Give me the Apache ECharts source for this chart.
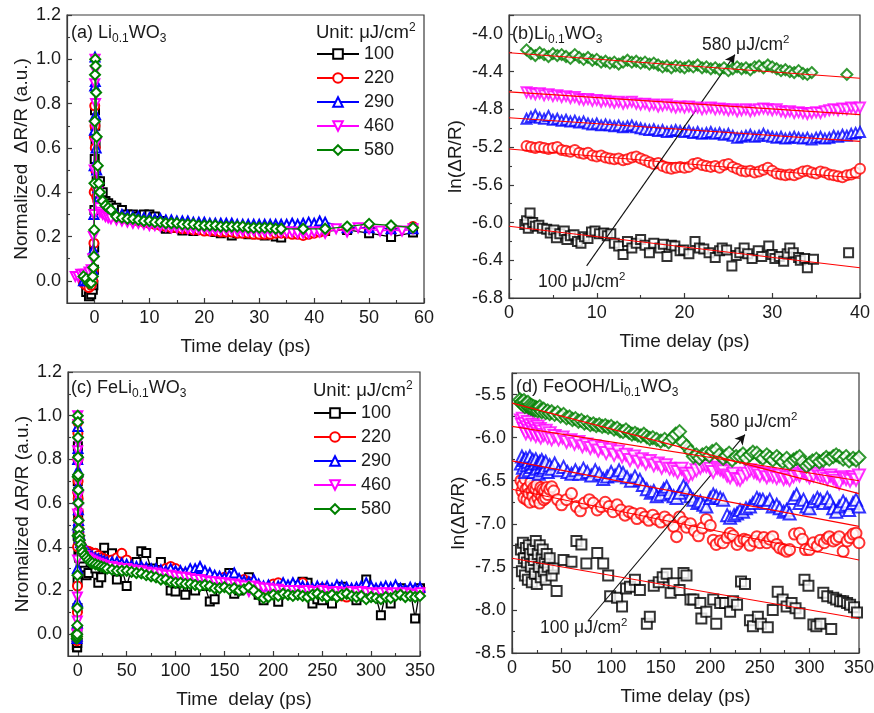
<!DOCTYPE html>
<html><head><meta charset="utf-8">
<script src="https://cdn.jsdelivr.net/npm/echarts@6/dist/echarts.min.js"></script>
<style>html,body{margin:0;padding:0;background:#fff}#c{width:874px;height:713px}</style>
</head><body><div id="c"></div>
<script>
// ---------- series names / tick labels ----------
const names = ['100','220','290','460','580'];
const ticksAx = [0,10,20,30,40,50,60];
const minorAx = [5,15,25,35,45,55];
const ticksAy = [0,0.2,0.4,0.6,0.8,1.0,1.2];
const minorAy = [0.1,0.3,0.5,0.7,0.9,1.1];
const ticksCx = [0,50,100,150,200,250,300,350];
const minorCx = [25,75,125,175,225,275,325];

// ---------- panel (a) ----------
const timeA = [-3.5,-3,-2.5,-2,-1.5,-1,-0.6,-0.3,-0.2,-0.1,-0.05,0,0.05,0.1,0.15,0.2,0.3,0.4,0.6,0.8,1,1.5,2,2.5,3,
4,5,6,7,8,9,10,11,12,13,14,15,16,17,18,19,20,21,22,23,24,25,26,27,28,29,30,31,32,33,34,35,36,37,38,39,40,41,42,
44,46,48,50,52,54,56,58];
const a100 = [null,null,null,null,-0.05,-0.07,-0.06,-0.04,-0.02,0.05,0.15,0.32,0.55,0.77,0.7,0.62,0.5,0.45,0.42,0.44,0.45,0.4,0.36,0.35,0.34,
0.33,0.32,0.3,0.3,0.29,0.3,0.3,0.29,0.27,0.235,0.24,0.24,0.227,0.23,0.225,0.23,0.235,0.23,0.22,0.215,0.22,0.205,0.215,0.22,0.21,0.215,0.21,0.205,0.21,0.2,0.196,
null,null,null,0.22,null,null,null,0.225,
null,0.23,null,0.215,null,0.198,null,0.218];
const a220 = [null,null,null,-0.01,-0.02,-0.03,-0.02,0.0,0.05,0.17,0.4,0.65,0.79,0.7,0.6,0.5,0.42,0.38,0.36,0.34,0.33,0.32,0.31,0.305,0.3,
0.29,0.285,0.28,0.275,0.27,0.265,0.26,0.255,0.25,0.245,0.24,0.24,0.235,0.235,0.23,0.23,0.225,0.225,0.225,0.22,0.22,0.22,0.215,0.215,0.215,0.21,0.21,0.21,0.21,0.215,0.215,
0.215,0.21,0.21,0.205,0.21,0.215,0.22,0.225,
null,0.235,null,0.24,null,0.235,null,0.245];
const a290 = [null,null,null,0.0,0.0,0.01,0.03,0.05,0.14,0.3,0.52,0.68,0.88,1.01,0.9,0.75,0.6,0.5,0.42,0.38,0.36,0.34,0.33,0.32,0.31,
0.3,0.3,0.295,0.29,0.29,0.285,0.285,0.28,0.28,0.275,0.275,0.27,0.27,0.27,0.265,0.265,0.265,0.26,0.26,0.26,0.26,0.26,0.255,0.255,0.255,0.255,0.255,0.255,0.255,0.255,0.255,
0.255,0.26,0.255,0.26,0.265,0.26,0.27,0.265,
null,0.24,null,0.24,null,0.235,null,0.235];
const a460 = [0.02,0.02,0.03,0.03,0.03,0.04,0.05,0.1,0.2,0.3,0.5,0.7,0.89,1.0,0.95,0.8,0.62,0.5,0.4,0.33,0.31,0.3,0.29,0.285,0.28,
0.275,0.27,0.265,0.26,0.26,0.255,0.25,0.25,0.245,0.245,0.24,0.24,0.24,0.235,0.235,0.235,0.235,0.23,0.23,0.23,0.23,0.23,0.225,0.225,0.225,0.225,0.225,0.22,0.225,0.225,0.22,
0.22,0.22,0.215,0.215,0.215,0.22,0.22,0.215,
0.235,0.22,0.24,0.235,0.225,0.23,0.225,0.235];
const a580 = [null,null,null,0.02,0.01,-0.01,-0.01,0.02,0.06,0.11,0.23,0.44,0.72,0.93,1.0,0.97,0.85,0.65,0.52,0.44,0.40,0.36,0.34,0.33,0.32,
0.29,0.285,0.28,0.28,0.275,0.27,0.27,0.265,0.265,0.26,0.26,0.26,0.255,0.255,0.255,0.25,0.25,0.25,0.25,0.245,0.245,0.245,0.245,0.245,0.24,0.24,0.24,0.24,0.24,0.235,0.235,
null,null,null,0.235,null,null,null,0.235,
null,0.245,null,0.257,null,0.25,null,0.24];

// ---------- panel (b) ----------
const timeB = [2,2.5,3,3.5,4,4.5,5,5.5,6,6.5,7,7.5,8,8.5,9,9.5,10,10.5,11,11.5,12,12.5,13,13.5,14,14.5,15,15.5,16,16.5,17,17.5,18,18.5,19,19.5,20,20.5,21,21.5,22,22.5,23,23.5,24,24.5,25,25.5,26,26.5,27,27.5,28,28.5,29,29.5,30,30.5,31,31.5,32,32.5,33,33.5,34,34.5,35,35.5,36,36.5,37,37.5,38,38.5,39,39.5,40];
const b220 = [-5.19,-5.2,-5.21,-5.2,-5.21,-5.22,-5.21,-5.2,-5.23,
-5.24,-5.25,-5.23,-5.26,-5.27,-5.26,-5.29,-5.3,-5.29,
-5.31,-5.32,-5.33,-5.32,-5.34,-5.33,-5.31,-5.3,-5.32,
-5.34,-5.36,-5.38,-5.37,-5.4,-5.42,-5.43,-5.42,-5.41,
-5.42,-5.41,-5.38,-5.37,-5.39,-5.4,-5.41,-5.4,-5.42,
-5.39,-5.38,-5.41,-5.43,-5.45,-5.46,-5.45,-5.47,-5.46,
-5.44,-5.42,-5.45,-5.48,-5.49,-5.5,-5.49,-5.5,-5.48,
-5.46,-5.45,-5.47,-5.48,-5.46,-5.47,-5.49,-5.5,-5.51,
-5.52,-5.5,-5.49,-5.47,-5.43];
const b290 = [-4.9,-4.88,-4.86,-4.89,-4.9,-4.87,-4.91,-4.9,-4.92,
-4.91,-4.93,-4.92,-4.94,-4.93,-4.95,-4.96,-4.95,-4.97,
-4.96,-4.97,-4.98,-4.97,-4.99,-4.98,-4.97,-4.99,-5.0,
-5.01,-5.02,-5.01,-5.03,-5.02,-5.04,-5.03,-5.02,-5.03,
-5.04,-5.03,-5.05,-5.04,-5.06,-5.05,-5.04,-5.06,-5.05,
-5.07,-5.06,-5.08,-5.1,-5.09,-5.08,-5.07,-5.09,-5.08,
-5.06,-5.08,-5.09,-5.1,-5.09,-5.11,-5.1,-5.09,-5.1,
-5.11,-5.1,-5.12,-5.1,-5.09,-5.11,-5.1,-5.08,-5.09,
-5.07,-5.08,-5.06,-5.05,-5.04];
const b460 = [-4.62,-4.63,-4.64,-4.63,-4.65,-4.64,-4.66,-4.65,-4.67,
-4.66,-4.68,-4.67,-4.69,-4.7,-4.69,-4.71,-4.7,-4.72,
-4.71,-4.72,-4.73,-4.72,-4.74,-4.73,-4.72,-4.74,-4.75,
-4.74,-4.76,-4.75,-4.77,-4.76,-4.75,-4.77,-4.78,-4.77,
-4.78,-4.77,-4.79,-4.78,-4.8,-4.79,-4.78,-4.8,-4.79,
-4.8,-4.81,-4.8,-4.82,-4.81,-4.8,-4.82,-4.81,-4.8,
-4.79,-4.8,-4.81,-4.8,-4.82,-4.83,-4.82,-4.84,-4.83,
-4.84,-4.85,-4.84,-4.83,-4.84,-4.82,-4.81,-4.8,-4.81,
-4.79,-4.8,-4.78,-4.79,-4.78];
const b580 = [-4.17,-4.21,-4.23,-4.2,-4.22,-4.24,-4.21,-4.23,-4.22,
-4.24,-4.26,-4.22,-4.25,-4.27,-4.25,-4.28,-4.27,-4.3,
-4.29,-4.31,-4.3,-4.32,-4.3,-4.28,-4.3,-4.29,-4.31,
-4.3,-4.32,-4.31,-4.33,-4.35,-4.34,-4.36,-4.34,-4.35,
-4.36,-4.34,-4.35,-4.33,-4.36,-4.35,-4.37,-4.36,-4.38,
-4.36,-4.39,-4.37,-4.35,-4.37,-4.36,-4.38,-4.35,-4.34,
-4.36,-4.33,-4.35,-4.37,-4.39,-4.38,-4.4,-4.41,-4.39,
-4.42,-4.43,-4.41,null,null,null,null,null,null,
null,-4.43,null,null,null];
const b100 = [[1.8,-6.02],[2,-5.98],[2.2,-6.06],[2.4,-5.9],[2.7,-6.0],[3,-6.04],[3.4,-6.03],[3.8,-6.06],[4.3,-6.07],[4.7,-6.11],[5.1,-6.08],[5.4,-6.16],[5.8,-6.12],[6.3,-6.09],[6.6,-6.18],[7,-6.14],[7.4,-6.13],[7.8,-6.2],[8.2,-6.22],[8.6,-6.15],[9,-6.17],[9.4,-6.1],[9.8,-6.09],[10.3,-6.12],[10.8,-6.11],[11.2,-6.14],[11.6,-6.12],[12,-6.22],[12.5,-6.25],[13,-6.34],[13.5,-6.2],[14,-6.27],[14.5,-6.22],[15,-6.18],[15.5,-6.24],[16,-6.32],[16.5,-6.22],[17.2,-6.27],[17.6,-6.23],[18,-6.36],[18.5,-6.24],[18.9,-6.25],[19.5,-6.3],[19.9,-6.29],[20.5,-6.33],[21.2,-6.2],[21.7,-6.27],[22.2,-6.28],[22.8,-6.32],[23.5,-6.37],[24,-6.3],[24.3,-6.27],[24.8,-6.29],[25.4,-6.46],[25.9,-6.35],[26.3,-6.32],[26.8,-6.27],[27.2,-6.33],[27.7,-6.38],[28.4,-6.3],[28.8,-6.36],[29.6,-6.25],[30,-6.34],[30.3,-6.38],[30.8,-6.36],[31.3,-6.41],[31.7,-6.33],[32,-6.27],[32.4,-6.32],[33,-6.37],[33.2,-6.4],[33.7,-6.38],[34,-6.48],[34.7,-6.39],[38.7,-6.32]];
const fitB100 = [[0,-6.04],[40,-6.48]];
const fitB220 = [[0,-5.22],[40,-5.53]];
const fitB290 = [[0,-4.89],[40,-5.14]];
const fitB460 = [[0,-4.615],[40,-4.856]];
const fitB580 = [[0,-4.2],[40,-4.47]];
const arrowB = [[8.85,-6.46],[25.75,-4.22]];

// ---------- panel (c) ----------
const timeC = [-1.5,-1,-0.8,-0.6,-0.5,-0.4,-0.3,-0.2,-0.1,0,0.1,0.2,0.3,0.4,0.5,0.6,0.8,1,1.5,2,3,4,5,7,9,11,13,15,18,21,24,27,30,
35,40,45,50,55,60,65,70,75,80,85,90,95,100,105,110,115,120,125,130,135,140,145,150,155,160,165,170,175,180,185,190,195,200,205,210,215,220,225,230,235,240,245,250,255,260,265,270,275,280,285,290,295,300,305,310,315,320,325,330,335,340,345,350];
const c100 = [null,-0.05,-0.06,-0.06,-0.04,0.02,0.12,0.24,0.45,0.7,0.86,0.8,0.65,0.55,0.48,0.43,0.38,0.36,0.35,0.36,0.33,0.3,0.31,0.29,0.27,0.28,0.35,0.37,0.3,0.235,0.26,0.395,0.3,
0.37,0.25,0.3,0.22,0.3,0.33,0.38,0.372,0.3,0.28,
0.33,0.29,0.2,0.195,0.25,0.18,0.24,0.2,0.26,0.22,
0.15,0.16,0.23,0.25,0.28,0.185,0.2,0.24,0.26,0.21,
0.18,0.155,0.2,0.19,0.148,0.2,0.21,0.19,0.22,0.24,
0.235,0.14,0.16,0.155,0.18,0.14,0.19,0.217,0.2,0.19,
0.155,0.2,0.25,0.2,0.17,0.087,0.19,0.14,0.2,0.21,
0.19,0.2,0.072,0.21];
const c220 = [null,-0.01,-0.03,-0.02,0.03,0.1,0.22,0.4,0.65,0.97,0.92,0.8,0.7,0.62,0.56,0.52,0.48,0.46,0.44,0.42,0.41,0.4,0.39,0.385,0.38,0.38,0.375,0.37,0.37,0.36,0.35,0.345,0.34,
0.34,0.35,0.37,0.34,0.3,0.29,0.3,0.29,0.28,0.285,
0.29,0.3,0.31,0.3,0.28,0.27,0.27,0.26,0.255,0.25,
0.24,0.245,0.255,0.26,0.25,0.23,0.22,0.25,0.24,0.22,
0.2,0.21,0.2,0.23,0.235,0.21,0.2,0.21,0.215,0.235,
0.2,0.19,0.2,0.21,0.2,0.195,0.19,0.175,0.17,0.19,
0.2,0.2,0.21,0.205,0.2,0.195,0.19,0.2,0.205,0.195,
0.19,0.2,0.195,0.2];
const c290 = [null,0.0,-0.02,-0.01,0.05,0.15,0.3,0.5,0.8,0.99,0.95,0.85,0.75,0.68,0.62,0.57,0.52,0.49,0.46,0.44,0.42,0.41,0.4,0.39,0.38,0.37,0.36,0.355,0.35,0.345,0.34,0.335,0.33,
0.33,0.33,0.325,0.32,0.315,0.31,0.31,0.305,0.3,0.3,
0.295,0.29,0.3,0.29,0.29,0.285,0.3,0.3,0.31,0.29,
0.28,0.27,0.265,0.26,0.27,0.28,0.255,0.245,0.24,0.25,
0.23,0.22,0.225,0.215,0.22,0.235,0.225,0.235,0.23,0.22,
0.215,0.21,0.22,0.215,0.22,0.21,0.225,0.22,0.215,0.21,
0.215,0.22,0.235,0.22,0.21,0.215,0.22,0.215,0.225,0.21,
0.205,0.215,0.21,0.215];
const c460 = [null,0.0,-0.02,0.0,0.06,0.17,0.34,0.55,0.84,1.0,0.96,0.88,0.78,0.7,0.63,0.58,0.5,0.46,0.43,0.41,0.39,0.38,0.37,0.36,0.35,0.345,0.34,0.335,0.33,0.325,0.32,0.315,0.31,
0.31,0.305,0.3,0.3,0.295,0.29,0.29,0.285,0.28,0.28,
0.275,0.27,0.27,0.265,0.26,0.26,0.255,0.25,0.25,0.245,
0.24,0.24,0.235,0.235,0.23,0.23,0.225,0.22,0.195,0.22,
0.215,0.21,0.21,0.205,0.205,0.2,0.2,0.2,0.2,0.195,
0.2,0.195,0.195,0.2,0.195,0.19,0.195,0.19,0.19,0.195,
0.19,0.195,0.19,0.19,0.185,0.19,0.19,0.185,0.19,0.185,
0.19,0.185,0.18,0.19];
const c580 = [0.0,-0.02,-0.01,0.0,0.04,0.12,0.27,0.45,0.72,1.0,0.97,0.9,0.81,0.73,0.66,0.6,0.52,0.48,0.45,0.43,0.41,0.39,0.375,0.36,0.35,0.34,0.33,0.325,0.32,0.315,0.31,0.305,0.3,
0.295,0.29,0.29,0.29,0.285,0.28,0.278,0.27,0.265,0.26,
0.25,0.25,0.24,0.235,0.235,0.23,0.23,0.225,0.22,0.225,
0.22,0.21,0.21,0.215,0.205,0.21,0.2,0.205,0.215,0.2,
0.18,0.165,0.17,0.18,0.175,0.185,0.18,0.175,0.18,0.175,
0.17,0.18,0.185,0.175,0.17,0.18,0.17,0.18,0.185,0.175,
0.17,0.175,0.16,0.17,0.165,0.16,0.17,0.165,0.175,0.18,
0.17,0.175,0.17,0.175];

// ---------- panel (d) ----------
const d100 = [[9,-7.3],[10,-7.55],[11,-7.22],[12,-7.4],[13,-7.6],[14,-7.28],[15,-7.45],[16,-7.65],[17,-7.25],[18,-7.35],[19,-7.5],[20,-7.68],[21,-7.3],[22,-7.42],[23,-7.58],[24,-7.2],[25,-7.7],[26,-7.35],[27,-7.5],[28,-7.25],[29,-7.62],[30,-7.4],[31,-7.3],[32,-7.55],[33,-7.45],[34,-7.65],[35,-7.35],[36,-7.5],[38,-7.4],[40,-7.6],[42,-7.52],[45,-7.78],[52,-7.42],[60,-7.44],[65,-7.2],[70,-7.24],[75,-7.46],[86,-7.34],[92,-7.46],[97,-7.6],[99,-7.84],[106,-7.86],[111,-7.96],[115,-7.75],[119,-7.73],[124,-7.65],[129,-7.77],[136,-8.16],[139,-8.08],[143,-7.72],[148,-7.68],[152,-7.62],[156,-7.58],[160,-7.8],[163,-7.69],[169,-7.77],[173,-7.57],[176,-7.6],[180,-7.88],[183,-7.88],[190,-7.92],[191,-8.1],[196,-8.02],[203,-7.88],[206,-8.16],[210,-7.92],[215,-7.92],[220,-8.02],[223,-7.9],[227,-7.94],[231,-7.67],[235,-7.7],[240,-8.12],[243,-8.19],[248,-8.08],[251,-8.16],[258,-8.2],[263,-8.0],[268,-7.79],[273,-7.88],[277,-7.96],[282,-7.92],[286,-7.98],[290,-8.04],[295,-7.65],[299,-7.72],[304,-8.17],[307,-8.19],[311,-8.16],[314,-7.8],[318,-7.84],[322,-8.22],[324,-7.86],[327,-7.88],[331,-7.9],[334,-7.9],[338,-7.92],[341,-7.94],[345,-7.97],[348,-8.03]];
const d220 = [[9,-6.5],[10,-6.62],[11,-6.55],[12,-6.7],[13,-6.48],[14,-6.6],[15,-6.72],[16,-6.58],[17,-6.65],[18,-6.75],[19,-6.52],[20,-6.62],[21,-6.68],[22,-6.58],[23,-6.74],[24,-6.6],[25,-6.55],[26,-6.7],[27,-6.64],[28,-6.76],[29,-6.58],[30,-6.68],[31,-6.6],[32,-6.72],[33,-6.62],[34,-6.7],[35,-6.58],[36,-6.66],[38,-6.6],[40,-6.57],[42,-6.62],[46,-6.72],[50,-6.78],[55,-6.72],[60,-6.65],[65,-6.8],[69,-6.85],[73,-6.76],[78,-6.72],[82,-6.76],[86,-6.84],[90,-6.8],[94,-6.75],[98,-6.8],[102,-6.86],[106,-6.78],[110,-6.84],[114,-6.9],[118,-6.86],[122,-6.88],[126,-6.94],[130,-6.88],[134,-6.92],[138,-6.96],[142,-6.9],[146,-6.95],[150,-6.98],[154,-6.92],[158,-6.96],[163,-7.03],[166,-7.15],[169,-6.92],[173,-6.98],[176,-7.04],[180,-7.0],[184,-7.08],[188,-7.14],[192,-7.05],[196,-6.95],[200,-7.02],[203,-7.19],[206,-7.24],[210,-7.2],[213,-7.22],[217,-7.16],[220,-7.11],[223,-7.14],[227,-7.24],[230,-7.2],[234,-7.18],[237,-7.19],[240,-7.25],[244,-7.2],[247,-7.15],[250,-7.22],[254,-7.16],[257,-7.22],[260,-7.18],[263,-7.15],[267,-7.24],[270,-7.28],[274,-7.3],[277,-7.32],[280,-7.3],[285,-7.12],[290,-7.11],[293,-7.18],[296,-7.3],[300,-7.3],[304,-7.22],[308,-7.26],[311,-7.19],[315,-7.22],[318,-7.17],[320,-7.15],[324,-7.2],[327,-7.18],[330,-7.15],[334,-7.32],[338,-7.2],[341,-7.16],[344,-7.12],[347,-7.11],[350,-7.22]];
const d290 = [[9,-6.3],[10,-6.22],[11,-6.35],[12,-6.26],[13,-6.4],[14,-6.24],[15,-6.32],[16,-6.28],[17,-6.38],[18,-6.22],[19,-6.3],[20,-6.34],[21,-6.26],[22,-6.4],[23,-6.3],[24,-6.25],[25,-6.36],[26,-6.3],[27,-6.42],[28,-6.28],[29,-6.34],[30,-6.26],[31,-6.38],[32,-6.3],[33,-6.35],[34,-6.28],[36,-6.4],[38,-6.32],[40,-6.36],[43,-6.3],[47,-6.38],[52,-6.34],[56,-6.4],[60,-6.42],[64,-6.38],[68,-6.42],[72,-6.36],[76,-6.4],[80,-6.44],[84,-6.38],[88,-6.42],[92,-6.48],[96,-6.45],[100,-6.4],[104,-6.44],[108,-6.38],[112,-6.41],[116,-6.46],[120,-6.5],[124,-6.45],[129,-6.49],[132,-6.55],[136,-6.6],[140,-6.64],[143,-6.62],[146,-6.68],[150,-6.66],[153,-6.6],[156,-6.57],[159,-6.64],[163,-6.68],[166,-6.7],[169,-6.64],[173,-6.56],[176,-6.6],[180,-6.68],[183,-6.72],[187,-6.76],[190,-6.74],[193,-6.78],[196,-6.8],[200,-6.7],[203,-6.66],[206,-6.68],[210,-6.7],[213,-6.72],[217,-6.9],[220,-6.93],[224,-6.9],[227,-6.88],[230,-6.84],[233,-6.86],[236,-6.82],[240,-6.8],[243,-6.76],[247,-6.7],[250,-6.72],[253,-6.72],[257,-6.76],[260,-6.72],[263,-6.8],[267,-6.78],[270,-6.82],[274,-6.86],[277,-6.84],[280,-6.88],[284,-6.7],[287,-6.66],[290,-6.76],[294,-6.72],[297,-6.8],[300,-6.82],[304,-6.74],[308,-6.7],[311,-6.72],[314,-6.76],[318,-6.7],[321,-6.74],[324,-6.82],[327,-6.86],[330,-6.8],[334,-6.74],[337,-6.78],[340,-6.84],[344,-6.76],[347,-6.72],[350,-6.8]];
const d460 = [[9,-5.8],[10,-5.85],[11,-5.78],[12,-5.9],[13,-5.84],[14,-5.95],[15,-5.88],[16,-5.82],[17,-5.92],[18,-5.86],[19,-5.96],[20,-5.9],[21,-5.85],[22,-5.94],[23,-5.88],[24,-5.98],[25,-5.92],[26,-5.87],[27,-5.96],[28,-5.9],[29,-6.0],[30,-5.93],[32,-5.97],[34,-5.92],[36,-6.0],[38,-5.95],[40,-6.02],[43,-5.98],[47,-6.02],[51,-6.0],[55,-6.05],[59,-6.03],[63,-6.07],[67,-6.05],[71,-6.1],[75,-6.08],[79,-6.12],[83,-6.1],[87,-6.15],[91,-6.12],[95,-6.18],[99,-6.14],[103,-6.2],[107,-6.16],[111,-6.22],[115,-6.2],[119,-6.26],[123,-6.22],[127,-6.28],[131,-6.25],[135,-6.3],[139,-6.27],[143,-6.32],[147,-6.3],[151,-6.35],[155,-6.32],[159,-6.36],[163,-6.37],[167,-6.4],[171,-6.36],[175,-6.42],[178,-6.45],[182,-6.42],[186,-6.38],[190,-6.35],[193,-6.32],[196,-6.33],[200,-6.36],[203,-6.4],[207,-6.35],[210,-6.37],[213,-6.39],[217,-6.44],[220,-6.46],[223,-6.42],[227,-6.48],[230,-6.49],[233,-6.45],[237,-6.42],[240,-6.38],[244,-6.4],[247,-6.41],[250,-6.44],[254,-6.42],[257,-6.46],[260,-6.43],[263,-6.45],[267,-6.47],[270,-6.44],[274,-6.48],[277,-6.46],[280,-6.49],[284,-6.45],[287,-6.42],[290,-6.44],[294,-6.4],[297,-6.43],[300,-6.46],[304,-6.44],[308,-6.42],[311,-6.45],[314,-6.45],[318,-6.48],[321,-6.44],[324,-6.47],[327,-6.5],[330,-6.53],[334,-6.46],[337,-6.48],[341,-6.5],[344,-6.46],[347,-6.49],[350,-6.44]];
const d580 = [[8,-5.56],[9,-5.6],[10,-5.58],[11,-5.62],[12,-5.57],[13,-5.64],[14,-5.6],[15,-5.63],[16,-5.59],[17,-5.65],[18,-5.62],[19,-5.66],[20,-5.63],[21,-5.67],[22,-5.64],[23,-5.68],[24,-5.65],[25,-5.66],[26,-5.69],[27,-5.66],[28,-5.64],[29,-5.68],[30,-5.7],[32,-5.67],[34,-5.71],[36,-5.69],[38,-5.72],[40,-5.7],[43,-5.73],[46,-5.71],[49,-5.75],[52,-5.73],[55,-5.77],[58,-5.76],[61,-5.79],[64,-5.78],[67,-5.81],[70,-5.8],[73,-5.83],[76,-5.82],[79,-5.85],[82,-5.84],[85,-5.86],[88,-5.85],[91,-5.87],[94,-5.86],[97,-5.88],[100,-5.87],[103,-5.9],[106,-5.89],[109,-5.92],[112,-5.93],[115,-5.91],[118,-5.94],[121,-5.96],[124,-5.95],[127,-5.97],[130,-5.98],[133,-5.96],[136,-5.99],[139,-6.01],[142,-6.0],[146,-6.02],[150,-6.04],[154,-6.02],[158,-6.05],[162,-6.0],[165,-5.96],[169,-5.93],[172,-6.05],[176,-6.1],[180,-6.16],[183,-6.22],[186,-6.2],[189,-6.24],[192,-6.2],[196,-6.18],[199,-6.21],[202,-6.16],[206,-6.14],[209,-6.2],[213,-6.24],[216,-6.21],[219,-6.18],[222,-6.26],[226,-6.22],[230,-6.22],[233,-6.19],[236,-6.24],[240,-6.2],[243,-6.17],[247,-6.18],[250,-6.22],[253,-6.24],[257,-6.2],[260,-6.23],[263,-6.26],[267,-6.22],[270,-6.25],[273,-6.28],[277,-6.24],[280,-6.3],[284,-6.26],[287,-6.24],[290,-6.22],[293,-6.28],[297,-6.33],[300,-6.3],[303,-6.27],[307,-6.25],[310,-6.28],[314,-6.26],[317,-6.23],[320,-6.25],[324,-6.22],[327,-6.2],[330,-6.22],[334,-6.25],[337,-6.22],[340,-6.27],[344,-6.24],[347,-6.26],[350,-6.23]];
const fitD100 = [[0,-7.4],[350,-8.1]];
const fitD220 = [[0,-6.6],[350,-7.42]];
const fitD290 = [[0,-6.27],[350,-7.03]];
const fitD460 = [[0,-5.87],[350,-6.5]];
const fitD580 = [[0,-5.6],[350,-6.65]];
const arrowD = [[77.1,-8.12],[235,-5.965]];

// ---------- styling ----------
const F = '"Liberation Sans", Arial, sans-serif';
const AX = '#3a3a3a';
const TXT = '#1a1a1a';
const COLORS = ['#000000','#ff0000','#0000ff','#ff00ff','#008000'];
const SYMS = ['emptyRect','emptyCircle','emptyTriangle','emptyTriangle','emptyDiamond'];
const ROT = [0,0,0,180,0];
const SZ_AC = [8,9,9,9,10];
const SZ_B = [9,10,10,10,11];
const SZ_D = [10,11,12,12,13];

function pairs(t, v){ const o=[]; for(let i=0;i<t.length;i++){ if(v[i]!==null) o.push([t[i],v[i]]); } return o; }

function axisBase(gridIndex, min, max, extra){
  return Object.assign({
    type:'value', gridIndex, min, max,
    axisLine:{show:true, onZero:false, lineStyle:{color:AX, width:1.2}},
    axisTick:{show:true, inside:true, length:5, lineStyle:{color:AX, width:1.2}},
    axisLabel:{color:TXT, fontSize:18, fontFamily:F, margin:6},
    splitLine:{show:false},
    nameLocation:'middle', nameMoveOverlap:false,
    nameTextStyle:{fontSize:19, fontFamily:F, color:TXT}
  }, extra);
}
function minorAxis(gridIndex, min, max, vals, pos){
  return {type:'value', gridIndex, min, max, position:pos,
    axisLine:{show:false, onZero:false}, axisLabel:{show:false}, splitLine:{show:false},
    axisTick:{show:true, inside:true, length:3, customValues:vals, lineStyle:{color:AX, width:1.1}}};
}
const fmt1 = v => (Math.abs(v) < 1e-9 ? 0 : v).toFixed(1);
const minorT = {show:true, splitNumber:2, length:3, lineStyle:{color:AX, width:1.1}};

const xAxis = [
  axisBase(0,-5,60,{name:'Time delay (ps)', nameGap:34,
    axisTick:{show:true, inside:true, length:5, customValues:ticksAx, lineStyle:{color:AX,width:1.2}},
    axisLabel:{color:TXT, fontSize:18, fontFamily:F, margin:6, customValues:ticksAx}}),
  minorAxis(0,-5,60,minorAx,'bottom'),
  axisBase(1,0,40,{interval:10, minorTick:minorT, name:'Time delay (ps)', nameGap:34}),
  axisBase(2,-10,350,{name:'Time  delay (ps)', nameGap:34,
    axisTick:{show:true, inside:true, length:5, customValues:ticksCx, lineStyle:{color:AX,width:1.2}},
    axisLabel:{color:TXT, fontSize:18, fontFamily:F, margin:6, customValues:ticksCx}}),
  minorAxis(2,-10,350,minorCx,'bottom'),
  axisBase(3,0,350,{interval:50, minorTick:minorT, name:'Time delay (ps)', nameGap:34})
];
const yAxis = [
  axisBase(0,-0.1,1.2,{name:'Normalized  \u0394R/R (a.u.)', nameGap:36,
    axisTick:{show:true, inside:true, length:5, customValues:ticksAy, lineStyle:{color:AX,width:1.2}},
    axisLabel:{color:TXT, fontSize:18, fontFamily:F, margin:6, customValues:ticksAy, formatter:fmt1}}),
  minorAxis(0,-0.1,1.2,minorAy,'left'),
  axisBase(1,-6.8,-3.8,{interval:0.4, minorTick:minorT, name:'ln(\u0394R/R)', nameGap:44,
    axisLabel:{color:TXT, fontSize:18, fontFamily:F, margin:6, formatter:fmt1, showMaxLabel:false}}),
  axisBase(2,-0.1,1.2,{name:'Nromalized \u0394R/R (a.u.)', nameGap:36,
    axisTick:{show:true, inside:true, length:5, customValues:ticksAy, lineStyle:{color:AX,width:1.2}},
    axisLabel:{color:TXT, fontSize:18, fontFamily:F, margin:6, customValues:ticksAy, formatter:fmt1}}),
  minorAxis(2,-0.1,1.2,minorAy,'left'),
  axisBase(3,-8.5,-5.25,{interval:0.5, minorTick:minorT, name:'ln(\u0394R/R)', nameGap:44,
    axisLabel:{color:TXT, fontSize:18, fontFamily:F, margin:6, formatter:fmt1, showMaxLabel:false}})
];

const gridCommon = {show:true, borderColor:AX, borderWidth:1.2, backgroundColor:'transparent', containLabel:false, outerBoundsMode:'none'};
const grid = [
  Object.assign({left:67, top:15, width:357, height:288}, gridCommon),
  Object.assign({left:509, top:15, width:351, height:283}, gridCommon),
  Object.assign({left:68, top:372, width:352, height:284}, gridCommon),
  Object.assign({left:512, top:373, width:347, height:280}, gridCommon)
];

const series = [];
const aVals = [a100,a220,a290,a460,a580];
const cVals = [c100,c220,c290,c460,c580];
aVals.forEach((v,i)=>series.push({type:'line', name:names[i], xAxisIndex:0, yAxisIndex:0,
  data:pairs(timeA,v), symbol:SYMS[i], symbolRotate:ROT[i], symbolSize:SZ_AC[i], showSymbol:true, connectNulls:true,
  lineStyle:{color:COLORS[i], width:1.3}, itemStyle:{color:COLORS[i], borderWidth:1.5}, z:2+i, silent:true}));
cVals.forEach((v,i)=>series.push({type:'line', name:names[i], xAxisIndex:3, yAxisIndex:3,
  data:pairs(timeC,v), symbol:SYMS[i], symbolRotate:ROT[i], symbolSize:SZ_AC[i], showSymbol:true, connectNulls:true,
  lineStyle:{color:COLORS[i], width:1.3}, itemStyle:{color:COLORS[i], borderWidth:1.5}, z:2+i, silent:true}));

const bData = [b100, pairs(timeB,b220), pairs(timeB,b290), pairs(timeB,b460), pairs(timeB,b580)];
bData.forEach((d,i)=>series.push({type:'scatter', name:'b'+names[i], xAxisIndex:2, yAxisIndex:2, data:d,
  symbol:SYMS[i], symbolRotate:ROT[i], symbolSize:SZ_B[i], itemStyle:{color:COLORS[i], borderWidth:1.8}, z:2+i, silent:true}));
const dData = [d100,d220,d290,d460,d580];
dData.forEach((d,i)=>series.push({type:'scatter', name:'d'+names[i], xAxisIndex:5, yAxisIndex:5, data:d,
  symbol:SYMS[i], symbolRotate:ROT[i], symbolSize:SZ_D[i], itemStyle:{color:COLORS[i], borderWidth:2}, z:2+i, silent:true}));

[fitB100,fitB220,fitB290,fitB460,fitB580].forEach((d,i)=>series.push({type:'line', name:'fb'+i, xAxisIndex:2, yAxisIndex:2,
  data:d, symbol:'none', lineStyle:{color:'#ff0000', width:1.1}, z:10, silent:true}));
[fitD100,fitD220,fitD290,fitD460,fitD580].forEach((d,i)=>series.push({type:'line', name:'fd'+i, xAxisIndex:5, yAxisIndex:5,
  data:d, symbol:'none', lineStyle:{color:'#ff0000', width:1.1}, z:10, silent:true}));

function arrowSeries(xi, yi, a){
  return {type:'line', name:'arr'+xi, xAxisIndex:xi, yAxisIndex:yi, data:[], symbol:'none', z:11, silent:true,
    markLine:{silent:true, animation:false, symbol:['none','arrow'], symbolSize:[8,10],
      lineStyle:{color:'#111', width:1.1, type:'solid'}, label:{show:false},
      data:[[{coord:a[0]},{coord:a[1]}]]}};
}
series.push(arrowSeries(2,2,arrowB));
series.push(arrowSeries(5,5,arrowD));

const legendCommon = {data:names, orient:'vertical', itemWidth:42, itemHeight:12, itemGap:6, selectedMode:false,
  textStyle:{fontSize:18, fontFamily:F, color:TXT}, padding:0};
const legend = [
  Object.assign({left:316, top:45}, legendCommon),
  Object.assign({left:313, top:404}, legendCommon)
];

const RS = {m:{fontSize:18, fontFamily:F, lineHeight:23, fill:TXT}, s:{fontSize:12, fontFamily:F, verticalAlign:'bottom', fill:TXT}};
const RP = {m:{fontSize:18.5, fontFamily:F, lineHeight:22, fill:TXT}, p:{fontSize:12, fontFamily:F, verticalAlign:'top', fill:TXT}};
const RA = {m:{fontSize:17.5, fontFamily:F, lineHeight:22, fill:TXT}, p:{fontSize:11.5, fontFamily:F, verticalAlign:'top', fill:TXT}};
function txt(x,y,text,rich){ return {type:'text', x, y, silent:true, style:{text, rich, align:'left', verticalAlign:'middle', fill:TXT}}; }
const graphic = {elements:[
  txt(71,33,'{m|(a) Li}{s|0.1}{m|WO}{s|3}',RS),
  txt(512,34,'{m|(b)Li}{s|0.1}{m|WO}{s|3}',RS),
  txt(71,388,'{m|(c) FeLi}{s|0.1}{m|WO}{s|3}',RS),
  txt(516,387,'{m|(d) FeOOH/Li}{s|0.1}{m|WO}{s|3}',RS),
  txt(316,33,'{m|Unit: \u03bcJ/cm}{p|2}',RP),
  txt(313,391,'{m|Unit: \u03bcJ/cm}{p|2}',RP),
  txt(702,45,'{m|580 \u03bcJ/cm}{p|2}',RA),
  txt(538,282,'{m|100 \u03bcJ/cm}{p|2}',RA),
  txt(710,422,'{m|580 \u03bcJ/cm}{p|2}',RA),
  txt(540,628,'{m|100 \u03bcJ/cm}{p|2}',RA)
]};

const chart = echarts.init(document.getElementById('c'), null, {renderer:'canvas'});
chart.setOption({animation:false, backgroundColor:'#fff', grid, xAxis, yAxis, series, legend, graphic});
</script></body></html>
